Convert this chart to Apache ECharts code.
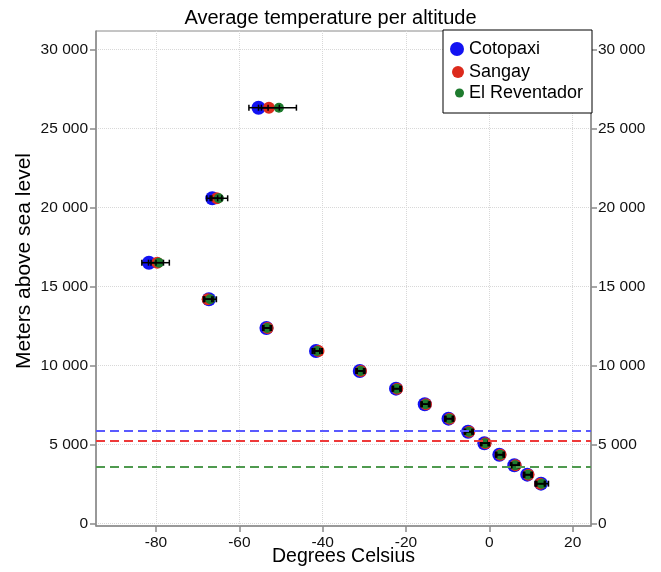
<!DOCTYPE html>
<html>
<head>
<meta charset="utf-8">
<script src="https://cdn.jsdelivr.net/npm/echarts@6/dist/echarts.min.js"></script>
<style>html,body{margin:0;padding:0;background:#fff}#c{width:661px;height:572px}</style>
</head>
<body>
<div id="c"></div>
<script>
// ---- data ----
const altitudes = [26316, 20582, 16506, 14190, 12373, 10918, 9652, 8532, 7544, 6633, 5810, 5076, 4354, 3683, 3089, 2519];
const cotopaxiTemp = [-55.4, -66.5, -81.7, -67.3, -53.5, -41.6, -31.1, -22.4, -15.5, -9.8, -5.1, -1.2, 2.4, 6.0, 9.1, 12.4];
const cotopaxiErr  = [2.3, 1.3, 1.7, 1.0, 0.9, 0.9, 0.9, 0.9, 0.9, 0.9, 0.9, 0.9, 0.9, 0.9, 0.9, 1.0];
const sangayTemp   = [-52.9, -65.4, -79.7, -67.6, -53.2, -41.0, -30.8, -22.1, -15.2, -9.5, -4.8, -0.9, 2.7, 6.3, 9.4, 12.2];
const sangayErr    = [2.5, 1.2, 1.5, 1.0, 0.9, 0.9, 0.9, 0.9, 0.9, 0.9, 0.9, 0.9, 0.9, 0.9, 0.9, 1.0];
const reventadorTemp = [-50.5, -64.9, -79.3, -67.0, -53.3, -41.3, -30.9, -22.2, -15.3, -9.6, -4.9, -1.0, 2.6, 6.2, 9.3, 12.6];
const reventadorErr  = [4.2, 2.1, 2.5, 1.5, 1.0, 1.0, 1.0, 1.0, 1.0, 1.0, 1.0, 1.0, 1.0, 1.0, 1.0, 1.6];
const seriesNames = ['Cotopaxi', 'Sangay', 'El Reventador'];
const summitHeights = [5897, 5230, 3562];
const xTicks = [-80, -60, -40, -20, 0, 20];
const yTicks = [0, 5000, 10000, 15000, 20000, 25000, 30000];

// ---- styling ----
const FONT = '"Liberation Sans", Arial, Helvetica, sans-serif';
const markerColors = ['#1212f2', '#dc2a1c', '#1e7b2e'];
const lineColors = ['#5a5aff', '#ee3a3a', '#4f9a4f'];
const markerSizes = [14, 12, 10];
const axisGray = '#8a8a8a';

function fmtY(v) { return String(v).replace(/\B(?=(\d{3})+(?!\d))/g, ' '); }

function pts(temps, errs) { return temps.map((t, i) => [t, altitudes[i], errs[i]]); }
const allData = [pts(cotopaxiTemp, cotopaxiErr), pts(sangayTemp, sangayErr), pts(reventadorTemp, reventadorErr)];

function errRender(params, api) {
  const x = api.value(0), y = api.value(1), e = api.value(2);
  const l = api.coord([x - e, y]), r = api.coord([x + e, y]);
  const h = 3;
  const st = { stroke: '#000', lineWidth: 1.5 };
  return { type: 'group', children: [
    { type: 'line', shape: { x1: l[0], y1: l[1], x2: r[0], y2: r[1] }, style: st },
    { type: 'line', shape: { x1: l[0], y1: l[1] - h, x2: l[0], y2: l[1] + h }, style: st },
    { type: 'line', shape: { x1: r[0], y1: r[1] - h, x2: r[0], y2: r[1] + h }, style: st }
  ]};
}

const series = [];
series.push({
  type: 'line', name: 'summits', data: [], z: 1, silent: true,
  markLine: {
    silent: true, symbol: 'none', label: { show: false }, animation: false,
    data: summitHeights.map((h, i) => ({ yAxis: h, lineStyle: { color: lineColors[i], type: [9, 5], width: 2 } }))
  }
});
allData.forEach((d, i) => {
  series.push({
    type: 'scatter', name: seriesNames[i], data: d.map(p => [p[0], p[1]]),
    symbol: 'circle', symbolSize: markerSizes[i], itemStyle: { color: markerColors[i], opacity: 1 },
    z: 3, animation: false
  });
  series.push({
    type: 'custom', name: seriesNames[i] + ' err', data: d, renderItem: errRender,
    encode: { x: 0, y: 1 }, z: 4, animation: false, silent: true
  });
});

function legendFor(i, size, cy) {
  return {
    data: [{ name: seriesNames[i], icon: 'circle' }],
    left: 469 - 5 - size, top: cy - 10, itemWidth: size, itemHeight: size, itemGap: 5, padding: 0,
    textStyle: { fontFamily: FONT, fontSize: 18, color: '#000', lineHeight: 20 },
    selectedMode: false, z: 10
  };
}

const chart = echarts.init(document.getElementById('c'), null, { renderer: 'canvas' });
chart.setOption({
  animation: false,
  backgroundColor: '#fff',
  textStyle: { fontFamily: FONT },
  title: {
    text: 'Average temperature per altitude', left: 'center', top: 3,
    textStyle: { fontFamily: FONT, fontSize: 20, fontWeight: 'normal', color: '#000' }
  },
  grid: { left: 96, right: 70, top: 31, bottom: 46, containLabel: false, outerBoundsMode: 'none',
          show: true, borderColor: axisGray, borderWidth: 1, backgroundColor: 'transparent' },
  legend: [legendFor(0, 14, 49), legendFor(1, 12, 72), legendFor(2, 9, 93)],
  graphic: [{
    type: 'rect', shape: { x: 443, y: 30, width: 149, height: 83 },
    style: { fill: '#fff', stroke: '#000', lineWidth: 1 }, z: 5
  }],
  xAxis: {
    type: 'value', min: -94.4, max: 24.4,
    name: 'Degrees Celsius', nameLocation: 'middle', nameGap: 21, nameMoveOverlap: false,
    nameTextStyle: { fontFamily: FONT, fontSize: 19.5, color: '#000' },
    axisLine: { show: true, onZero: false, lineStyle: { color: axisGray, width: 1.5 } },
    axisTick: { show: true, customValues: xTicks, length: 6, lineStyle: { color: axisGray, width: 1.5 } },
    axisLabel: { customValues: xTicks, fontSize: 15.5, color: '#111', margin: 9, fontFamily: FONT },
    splitLine: { show: true, lineStyle: { type: 'dotted', color: '#d8d8d8', width: 1 } }
  },
  yAxis: [{
    type: 'value', min: -160, max: 31170, position: 'left',
    name: 'Meters above sea level', nameLocation: 'middle', nameGap: 61, nameMoveOverlap: false,
    nameTextStyle: { fontFamily: FONT, fontSize: 21, color: '#000', padding: [0, 0, 0, 35] },
    axisLine: { show: true, onZero: false, lineStyle: { color: axisGray, width: 1.5 } },
    axisTick: { show: true, customValues: yTicks, length: 6, lineStyle: { color: axisGray, width: 1.5 } },
    axisLabel: { customValues: yTicks, formatter: fmtY, fontSize: 15.5, color: '#111', margin: 8, fontFamily: FONT },
    splitLine: { show: true, lineStyle: { type: 'dotted', color: '#d8d8d8', width: 1 } }
  }, {
    type: 'value', min: -160, max: 31170, position: 'right',
    axisLine: { show: true, onZero: false, lineStyle: { color: axisGray, width: 1.5 } },
    axisTick: { show: true, customValues: yTicks, length: 6, lineStyle: { color: axisGray, width: 1.5 } },
    axisLabel: { customValues: yTicks, formatter: fmtY, fontSize: 15.5, color: '#111', margin: 7, fontFamily: FONT },
    splitLine: { show: false }
  }],
  series: series
});
</script>
</body>
</html>
